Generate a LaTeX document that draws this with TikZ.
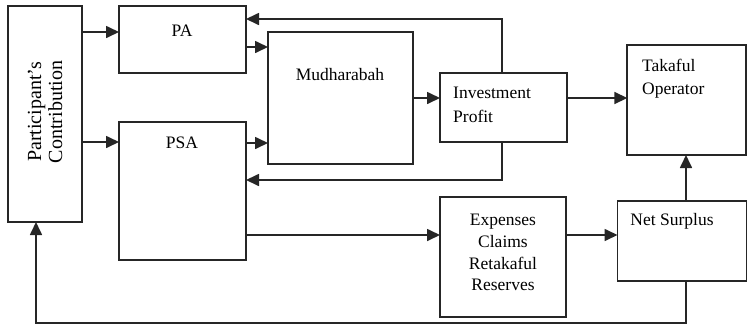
\documentclass[tikz,border=0pt]{standalone}
\usepackage{fontspec}
\setmainfont{Liberation Serif}
\usetikzlibrary{arrows.meta}
\begin{document}
\begin{tikzpicture}[x=1pt,y=-1pt,
  box/.style={draw=black!85,line width=1.7pt,inner sep=0pt,outer sep=0pt},
  lbl/.style={inner sep=0pt,font=\fontsize{17.5}{23}\selectfont},
  conn/.style={draw=black!85,line width=1.7pt},
  arr/.style={conn,-{Triangle[length=13pt,width=12pt]}}]
\useasboundingbox (0,0) rectangle (748,325);
% boxes
\node[box,minimum width=74pt,minimum height=216pt] (contrib) at (45,114) {};
\node[box,minimum width=127pt,minimum height=67pt] (pa) at (182.5,39.5) {};
\node[box,minimum width=127pt,minimum height=138pt] (psa) at (182.5,191) {};
\node[box,minimum width=145pt,minimum height=132pt] (mud) at (340.5,98) {};
\node[box,minimum width=127pt,minimum height=69pt] (inv) at (503.5,107.5) {};
\node[box,minimum width=119pt,minimum height=110pt] (tak) at (686.8,100) {};
\node[box,minimum width=126pt,minimum height=120pt] (exp) at (503,257) {};
\node[box,minimum width=129pt,minimum height=80pt] (net) at (682,241) {};
% texts
\node[lbl,rotate=90,align=center,font=\fontsize{20}{21}\selectfont] (tcontrib) at (45,112) {Participant's\\Contribution};
\node[lbl] (tpa) at (182,31) {PA};
\node[lbl] (tpsa) at (182,143) {PSA};
\node[lbl] (tmud) at (340,75) {Mudharabah};
\node[lbl,anchor=west,align=left,font=\fontsize{17.5}{24}\selectfont] (tinv) at (453,105) {Investment\\Profit};
\node[lbl,anchor=west,align=left] (ttak) at (642,78.5) {Takaful\\Operator};
\node[lbl,align=center,font=\fontsize{17.5}{21.7}\selectfont] (texp) at (503,252.5) {Expenses\\Claims\\Retakaful\\Reserves};
\node[lbl] (tnet) at (672,221) {Net Surplus};
% helper coordinates
\coordinate (y32) at (0,32);
\coordinate (y142) at (0,142);
\coordinate (y47) at (0,47);
\coordinate (y143) at (0,143);
\coordinate (y19) at (502,19);
\coordinate (y180) at (502,180);
\coordinate (y98) at (0,98);
\coordinate (y235) at (0,235);
\coordinate (x686) at (686,0);
\coordinate (bl) at (36,323);
\coordinate (br) at (686,323);
% connectors
\draw[arr] (contrib.east |- y32) -- (pa.west |- y32);
\draw[arr] (contrib.east |- y142) -- (psa.west |- y142);
\draw[arr] (pa.east |- y47) -- (mud.west |- y47);
\draw[arr] (psa.east |- y143) -- (mud.west |- y143);
\draw[arr] (inv.north -| y19) -- (y19) -- (pa.east |- y19);
\draw[arr] (inv.south -| y180) -- (y180) -- (psa.east |- y180);
\draw[arr] (mud.east |- y98) -- (inv.west |- y98);
\draw[arr] (inv.east |- y98) -- (tak.west |- y98);
\draw[arr] (psa.east |- y235) -- (exp.west |- y235);
\draw[arr] (exp.east |- y235) -- (net.west |- y235);
\draw[arr] (net.north -| x686) -- (tak.south -| x686);
\draw[arr] (net.south -| x686) -- (br) -- (bl) -- (contrib.south -| bl);
\end{tikzpicture}
\end{document}
